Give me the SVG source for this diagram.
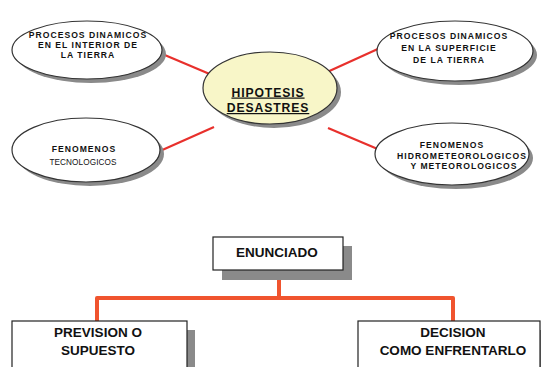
<svg xmlns="http://www.w3.org/2000/svg" width="541" height="367" viewBox="0 0 541 367">
<style>
.ell{fill:#ffffff;stroke:#333333;stroke-width:1.2}
.shd{fill:#8a8a8a}
.et{font-family:"Liberation Sans",Arial,sans-serif;font-size:8.6px;font-weight:bold;fill:#111;text-anchor:middle;letter-spacing:1px}
.ct{font-family:"Liberation Sans",Arial,sans-serif;font-size:12.2px;font-weight:bold;fill:#111;text-anchor:middle;letter-spacing:0.9px;text-decoration:underline}
.bt{font-family:"Liberation Sans",Arial,sans-serif;font-size:13.5px;font-weight:bold;fill:#111;text-anchor:middle}
.box{fill:#ffffff;stroke:#222;stroke-width:1.2}
.red{stroke:#e8302c;stroke-width:2.2;fill:none}
.org{stroke:#f0542e;stroke-width:4;fill:none;stroke-linejoin:round}
</style>
<rect width="541" height="367" fill="#ffffff"/>
<g id="connectors">
<line class="red" x1="160" y1="53" x2="212" y2="75"/>
<line class="red" x1="160" y1="151" x2="214" y2="127"/>
<line class="red" x1="325" y1="73" x2="380" y2="48"/>
<line class="red" x1="328" y1="128" x2="380" y2="150"/>
<polyline class="org" points="279,270 279,298"/>
<polyline class="org" points="97,321 97,298 453,298 453,321"/>
</g>
<g id="n_top_left">
<ellipse class="shd" cx="91" cy="54" rx="75" ry="29"/>
<ellipse class="ell" cx="87" cy="50" rx="75" ry="29"/>
<text class="et" x="88" y="38">PROCESOS DINAMICOS</text>
<text class="et" x="88" y="48">EN EL INTERIOR DE</text>
<text class="et" x="88" y="57.5">LA TIERRA</text>
</g>
<g id="n_top_right">
<ellipse class="shd" cx="459" cy="55" rx="78" ry="30"/>
<ellipse class="ell" cx="455" cy="51" rx="78" ry="30"/>
<text class="et" x="449" y="39">PROCESOS DINAMICOS</text>
<text class="et" x="449" y="51">EN LA SUPERFICIE</text>
<text class="et" x="449" y="63">DE LA TIERRA</text>
</g>
<g id="n_center">
<ellipse class="shd" cx="274" cy="92" rx="67" ry="36"/>
<ellipse cx="270" cy="88" rx="67" ry="36" fill="#f8f6c8" stroke="#333" stroke-width="1.2"/>
<text class="ct" x="268" y="96.5">HIPOTESIS</text>
<text class="ct" x="268" y="112">DESASTRES</text>
</g>
<g id="n_bottom_left">
<ellipse class="shd" cx="90" cy="154" rx="74" ry="32"/>
<ellipse class="ell" cx="86" cy="150" rx="74" ry="32"/>
<text class="et" x="84" y="152">FENOMENOS</text>
<text x="83" y="165" font-family="Liberation Sans, Arial, sans-serif" font-size="8.2px" fill="#111" text-anchor="middle" letter-spacing="0.1px">TECNOLOGICOS</text>
</g>
<g id="n_bottom_right">
<ellipse class="shd" cx="456" cy="158" rx="77" ry="31"/>
<ellipse class="ell" cx="452" cy="154" rx="77" ry="31"/>
<text class="et" x="452" y="147.5">FENOMENOS</text>
<text class="et" x="462" y="158.5" letter-spacing="0.5px">HIDROMETEOROLOGICOS</text>
<text class="et" x="464" y="169" letter-spacing="0.8px">Y METEOROLOGICOS</text>
</g>
<g id="n_enunciado">
<rect class="shd" x="222" y="246" width="130" height="34"/>
<rect class="box" x="213" y="237" width="130" height="33"/>
<text class="bt" x="277" y="257">ENUNCIADO</text>
</g>
<g id="n_prevision">
<rect class="shd" x="21" y="330" width="174" height="50"/>
<rect class="box" x="12" y="321" width="175" height="50"/>
<text class="bt" x="98" y="337">PREVISION O</text>
<text class="bt" x="98" y="355">SUPUESTO</text>
</g>
<g id="n_decision">
<rect class="shd" x="367" y="330" width="182" height="50"/>
<rect class="box" x="358" y="321" width="182" height="50"/>
<text class="bt" x="453" y="337">DECISION</text>
<text class="bt" x="453" y="355">COMO ENFRENTARLO</text>
</g>
</svg>
